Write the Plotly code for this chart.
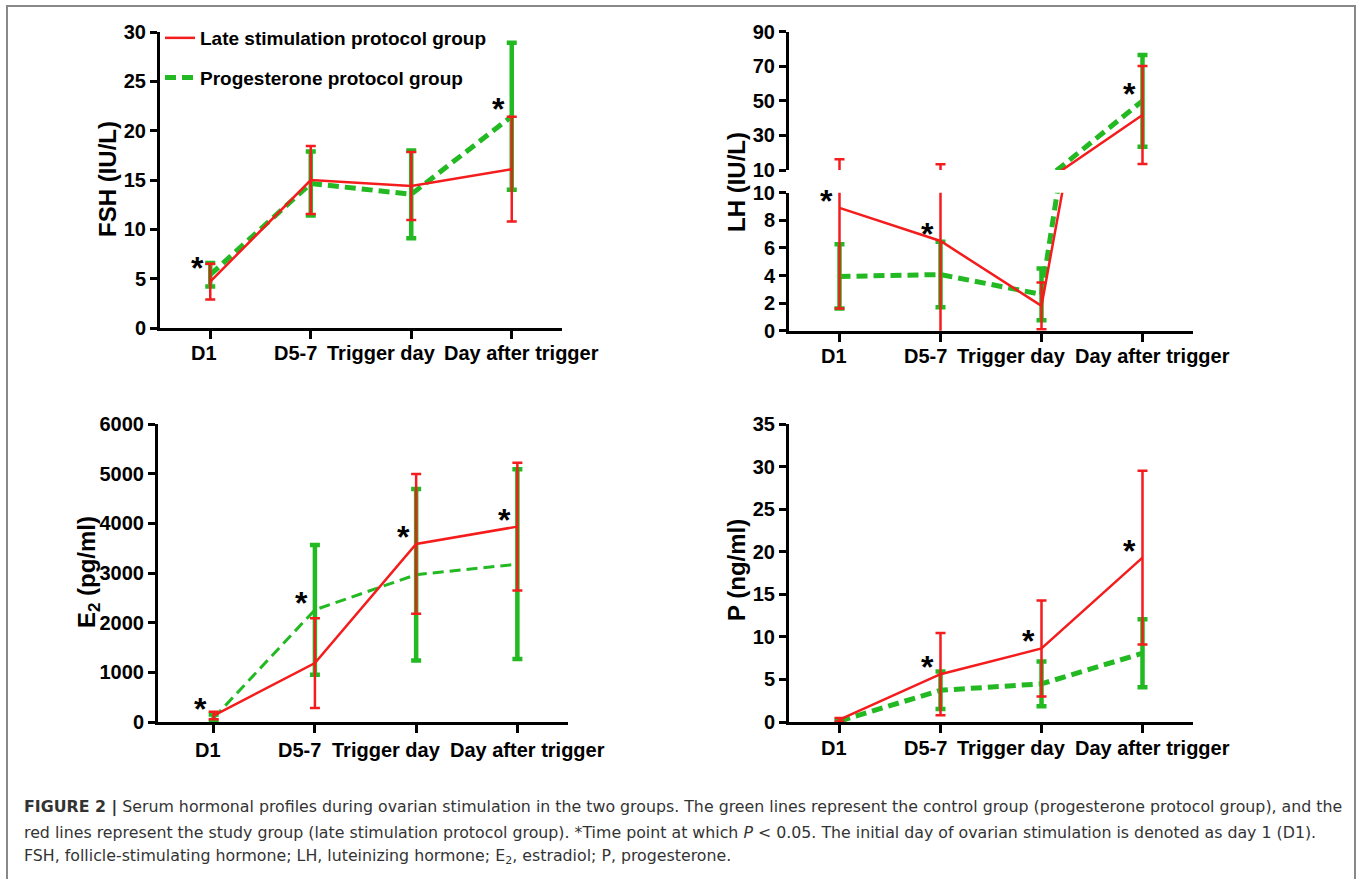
import plotly.graph_objects as go

W, H = 1357, 879

# ---------------- data ----------------
categories = ["D1", "D5-7", "Trigger day", "Day after trigger"]
series_names = ["Late stimulation protocol group", "Progesterone protocol group"]

fsh_late_mean = [4.7, 15.0, 14.4, 16.1]
fsh_late_sd = [1.8, 3.45, 3.45, 5.3]
fsh_prog_mean = [5.4, 14.65, 13.55, 21.45]
fsh_prog_sd = [1.2, 3.25, 4.45, 7.45]
fsh_sig = [0, 3]

lh_late_mean = [8.9, 6.5, 1.8, 41.8]
lh_late_sd = [7.3, 6.8, 1.7, 28.3]
lh_prog_mean = [3.93, 4.07, 2.63, 50.0]
lh_prog_sd = [2.33, 2.37, 1.87, 26.5]
lh_sig = [0, 1, 3]

e2_late_mean = [130, 1186, 3585, 3934]
e2_late_sd = [75, 905, 1407, 1287]
e2_prog_mean = [80, 2259, 2966, 3177]
e2_prog_sd = [70, 1307, 1726, 1910]
e2_sig = [0, 1, 2, 3]

p_late_mean = [0.27, 5.61, 8.64, 19.3]
p_late_sd = [0.2, 4.83, 5.64, 10.2]
p_prog_mean = [0.1, 3.73, 4.48, 8.08]
p_prog_sd = [0.1, 2.21, 2.64, 4.0]
p_sig = [1, 2, 3]

fsh_ticks = [0, 5, 10, 15, 20, 25, 30]
lh_low_ticks = [0, 2, 4, 6, 8, 10]
lh_high_ticks = [10, 30, 50, 70, 90]
e2_ticks = [0, 1000, 2000, 3000, 4000, 5000, 6000]
p_ticks = [0, 5, 10, 15, 20, 25, 30, 35]

# ---------------- style ----------------
RED = "#f41c1c"
GREEN = "#22b922"
FONT = "Liberation Sans, Arial, sans-serif"
label_shift = [-6, -15, -30, 10]


def px_x(x):
    return x / W


def px_y(y):
    return 1 - y / H


fig = go.Figure()


def add_pair(xa, ya, late_m, late_sd, prog_m, prog_sd, green_w=5, legend=False):
    fig.add_trace(go.Scatter(
        x=categories, y=prog_m, mode="lines", name=series_names[1],
        xaxis=xa, yaxis=ya, showlegend=legend, legendrank=2, legendgroup="g2",
        line=dict(color=GREEN, width=green_w, dash="11px,6px"),
        error_y=dict(type="data", array=prog_sd, symmetric=True, color=GREEN,
                     thickness=4.5, width=5),
    ))
    fig.add_trace(go.Scatter(
        x=categories, y=late_m, mode="lines", name=series_names[0],
        xaxis=xa, yaxis=ya, showlegend=legend, legendrank=1, legendgroup="g1",
        line=dict(color=RED, width=2.5),
        error_y=dict(type="data", array=late_sd, symmetric=True, color=RED,
                     thickness=2.5, width=5),
    ))


add_pair("x", "y", fsh_late_mean, fsh_late_sd, fsh_prog_mean, fsh_prog_sd, legend=True)
add_pair("x2", "y2", lh_late_mean, lh_late_sd, lh_prog_mean, lh_prog_sd)
add_pair("x2", "y3", lh_late_mean, lh_late_sd, lh_prog_mean, lh_prog_sd)
add_pair("x3", "y4", e2_late_mean, e2_late_sd, e2_prog_mean, e2_prog_sd, green_w=3)
add_pair("x4", "y5", p_late_mean, p_late_sd, p_prog_mean, p_prog_sd)

axis_common = dict(showline=True, linewidth=3, linecolor="black", ticks="outside",
                   tickwidth=2.5, tickcolor="black", showgrid=False, zeroline=False,
                   automargin=False,
                   tickfont=dict(family=FONT, size=20, color="black", weight="bold"))

xcommon = dict(axis_common, type="category", ticklen=8, showticklabels=False,
               categoryorder="array", categoryarray=categories)
ycommon = dict(axis_common, ticklen=7)

layout = dict(
    width=W, height=H, autosize=False,
    margin=dict(l=0, r=0, t=0, b=0, pad=0, autoexpand=False),
    paper_bgcolor="white", plot_bgcolor="white",
    xaxis=dict(xcommon, domain=[px_x(160), px_x(562)], range=[-0.5, 3.5], anchor="y"),
    yaxis=dict(ycommon, domain=[px_y(328), px_y(32)], range=[0, 30], tickvals=fsh_ticks, anchor="x"),
    xaxis2=dict(xcommon, domain=[px_x(789), px_x(1193)], range=[-0.5, 3.5], anchor="y2"),
    yaxis2=dict(ycommon, domain=[px_y(330.7), px_y(192.7)], range=[0, 10], tickvals=lh_low_ticks, anchor="x2"),
    yaxis3=dict(ycommon, domain=[px_y(170), px_y(31.7)], range=[10, 90], tickvals=lh_high_ticks, anchor="x2"),
    xaxis3=dict(xcommon, domain=[px_x(158), px_x(568)], range=[-0.55, 3.5], anchor="y4"),
    yaxis4=dict(ycommon, domain=[px_y(722), px_y(424)], range=[0, 6000], tickvals=e2_ticks, anchor="x3"),
    xaxis4=dict(xcommon, domain=[px_x(789), px_x(1193)], range=[-0.5, 3.5], anchor="y5"),
    yaxis5=dict(ycommon, domain=[px_y(722), px_y(424)], range=[0, 35], tickvals=p_ticks, anchor="x4"),
    legend=dict(x=px_x(160), y=px_y(19), xanchor="left", yanchor="top",
                bgcolor="rgba(0,0,0,0)", tracegroupgap=12,
                font=dict(family=FONT, size=19, color="black", weight="bold")),
    showlegend=True,
)

annotations = []

# category labels
for xa, ya, shift in [("x", "y", -25), ("x2", "y2", -25), ("x3", "y4", -28), ("x4", "y5", -26)]:
    for i, c in enumerate(categories):
        annotations.append(dict(x=c, y=0, xref=xa, yref=ya, text=c, showarrow=False,
                                xshift=label_shift[i], yshift=shift,
                                font=dict(family=FONT, size=20, color="black", weight="bold")))


# significance stars
def stars(xa, ya, sig, m1, m2, ya_fn=None):
    for i in sig:
        yv = max(m1[i], m2[i])
        yr = ya_fn(yv) if ya_fn else ya
        annotations.append(dict(x=categories[i], y=yv, xref=xa, yref=yr, text="*", showarrow=False,
                                xshift=-13, yshift=7,
                                font=dict(family=FONT, size=32, color="black", weight="bold")))


stars("x", "y", fsh_sig, fsh_late_mean, fsh_prog_mean)
stars("x2", "y2", lh_sig, lh_late_mean, lh_prog_mean, ya_fn=lambda v: "y2" if v <= 10 else "y3")
stars("x3", "y4", e2_sig, e2_late_mean, e2_prog_mean)
stars("x4", "y5", p_sig, p_late_mean, p_prog_mean)

# axis titles
for text, x, y in [("FSH (IU/L)", 107, 179), ("LH (IU/L)", 736, 182),
                   ("E<sub>2</sub> (pg/ml)", 88, 572), ("P (ng/ml)", 736, 570)]:
    annotations.append(dict(x=px_x(x), y=px_y(y), xref="paper", yref="paper", text=text,
                            showarrow=False, textangle=-90, xanchor="center", yanchor="middle",
                            font=dict(family=FONT, size=24, color="black", weight="bold")))

# caption
caption_lines = [
    "<b>FIGURE 2 |</b> Serum hormonal profiles during ovarian stimulation in the two groups. The green lines represent the control group (progesterone protocol group), and the",
    "red lines represent the study group (late stimulation protocol group). *Time point at which <i>P</i> &lt; 0.05. The initial day of ovarian stimulation is denoted as day 1 (D1).",
    "FSH, follicle-stimulating hormone; LH, luteinizing hormone; E<sub>2</sub>, estradiol; P, progesterone.",
]
for line, y in zip(caption_lines, [807, 832, 856]):
    annotations.append(dict(x=px_x(22), y=px_y(y), xref="paper", yref="paper", text=line,
                            showarrow=False, xanchor="left", yanchor="middle", align="left",
                            font=dict(family="DejaVu Sans, sans-serif", size=15.8, color="#333333")))

layout["annotations"] = annotations
layout["shapes"] = [dict(type="rect", xref="paper", yref="paper",
                         x0=px_x(7), x1=px_x(1355), y0=px_y(6), y1=-0.05,
                         line=dict(color="#888888", width=2), fillcolor="rgba(0,0,0,0)")]

fig.update_layout(**layout)
fig.write_html("out.html", config={"displayModeBar": False},
               post_script="document.body.style.margin='0';document.body.style.overflow='hidden';")
